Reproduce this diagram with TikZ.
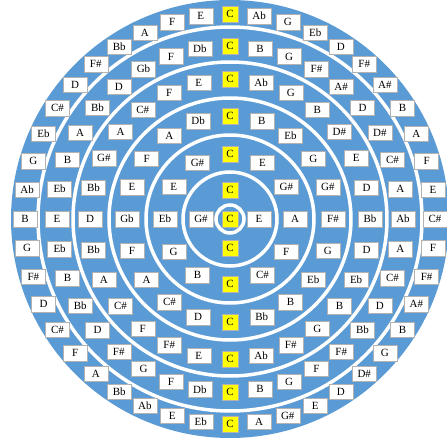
\documentclass[tikz,border=0pt]{standalone}
\usepackage{fontspec}
\setmainfont{Liberation Serif}
\usepackage{xcolor}
\definecolor{ringblue}{RGB}{91,155,213}
\definecolor{tonicyellow}{RGB}{255,255,0}

% one ring of note boxes: name, radius, number of places, notes (clockwise from top)
\def\tonicname{C}
\newcommand{\notering}[4]{%
  \foreach \n [count=\k from 0] in {#4} {%
    \edef\curnote{\n}%
    \ifx\curnote\tonicname
      \node[tonic] (#1-\k) at ({90-360*\k/#3}:#2) {\n};
    \else
      \node[note] (#1-\k) at ({90-360*\k/#3}:#2) {\n};
    \fi
  }%
}

\begin{document}
\begin{tikzpicture}[
    x=1pt, y=1pt,
    note/.style={rectangle, draw=gray!60, fill=white, minimum width=24pt, minimum height=15.5pt, inner sep=1pt, font=\fontsize{11}{12}\selectfont},
    tonic/.style={note, fill=tonicyellow, minimum width=16pt, minimum height=16pt},
    gap/.style={draw=white, line width=3.5pt}
]
    \useasboundingbox (-230,-220) rectangle (217,219);

    % Disk and white ring gaps
    \fill[ringblue] (0,0) circle (219);
    \foreach \rad in {14,47,84,121,157,192}
        \draw[gap] (0,0) circle (\rad);

    % Notes - centre
    \node[tonic] (centre) at (0,0) {C};

    % Notes - rings, inner to outer
    \notering{r1}{29}{4}{C,E,C,G\#}
    \notering{r2}{65}{12}{C,E,G\#,A,F,C\#,C,B,G,Eb,E,G\#}
    \notering{r3}{103}{20}{C,B,Eb,G,G\#,F\#,G,Eb,B,Bb,C,D,C\#,A,F,Gb,E,F,A,Db}
    \notering{r4}{140}{28}{C,Ab,G,B,D\#,E,D,Bb,D,Eb,B,G,F\#,Ab,C,E,F\#,F,C\#,A,Bb,D,Bb,G\#,A,C\#,F,E}
    \notering{r5}{173}{36}{C,B,G,F\#,A\#,D,D\#,C\#,A,Ab,A,C\#,D,Bb,F\#,F,G,B,C,Db,F,G,F\#,D,Bb,B,Eb,E,Eb,B,A,Bb,D,Gb,F,Db}
    \notering{r6}{205}{44}{C,Ab,G,Eb,D,F\#,A\#,B,A,F,E,C\#,F,F\#,A\#,B,G,D\#,D,E,G\#,A,C,Eb,E,Ab,Bb,A,F,C\#,D,F\#,G,B,Ab,G,Eb,C\#,D,F\#,Bb,A,F,E}
\end{tikzpicture}
\end{document}
